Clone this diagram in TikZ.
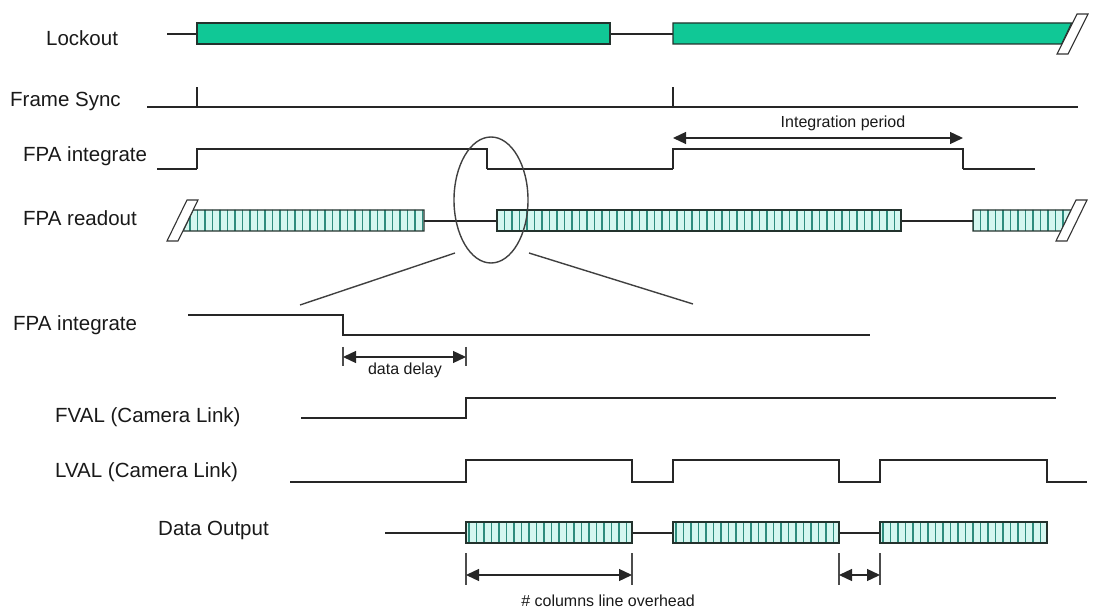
\documentclass[tikz,border=0pt]{standalone}
\usepackage{fontspec}
\setmainfont{Liberation Sans}
\usetikzlibrary{arrows.meta}
\definecolor{lockgreen}{RGB}{16,200,150}
\definecolor{barfill}{RGB}{212,247,240}
\definecolor{stripecol}{RGB}{45,140,125}
\definecolor{edgecol}{RGB}{35,50,45}
\tikzset{
  sig/.style={line width=1.4pt, black!85},
  sigthick/.style={line width=2.2pt, black!85},
  barline/.style={line width=1.3pt, edgecol},
  stripe/.style={line width=1.1pt, stripecol},
  lbl/.style={anchor=base west, inner sep=0pt, font=\fontsize{20.5}{24}\selectfont, black!90},
  small/.style={anchor=base, inner sep=0pt, font=\fontsize{16}{19}\selectfont, black!90},
  dim/.style={line width=1.3pt, black!85, {Triangle[length=13pt,width=12pt]}-{Triangle[length=13pt,width=12pt]}},
  tick/.style={line width=1.1pt, black!70},
  brk/.style={line width=1.1pt, black!80, fill=white},
  zoomline/.style={line width=1.4pt, black!75}
}
% striped bar: #1 polygon path, #2 start x
\newcommand{\stripedbar}[2]{%
  \begin{scope}
    \clip #1;
    \fill[barfill] #1;
    \foreach \i in {0,...,58} {\draw[stripe] ({#2+7.5*\i},150) -- ({#2+7.5*\i},600);}
  \end{scope}
  \draw[barline] #1;
}
\begin{document}
\begin{tikzpicture}[x=1pt,y=-1pt]
\useasboundingbox (0,0) rectangle (1095,609);

% ---------------- labels ----------------
\node[lbl] (lLock) at (46,46) {Lockout};
\node[lbl] (lSync) at (10,107) {Frame Sync};
\node[lbl] (lInt) at (23,162) {FPA integrate};
\node[lbl] (lRead) at (23,226) {FPA readout};
\node[lbl] (lInt2) at (13,331) {FPA integrate};
\node[lbl] (lFval) at (55,423) {FVAL (Camera Link)};
\node[lbl] (lLval) at (55,477) {LVAL (Camera Link)};
\node[lbl] (lData) at (158,535) {Data Output};

% ---------------- Lockout ----------------
\draw[sig] (167,34) -- (197,34);
\draw[sig] (610,34) -- (673,34);
\fill[lockgreen] (197,23) rectangle (610,44);
\draw[barline] (197,23) rectangle (610,44);
\fill[lockgreen] (673,23) -- (1071.7,23) -- (1061.8,44) -- (673,44) -- cycle;
\draw[barline] (673,23) -- (1071.7,23) -- (1061.8,44) -- (673,44) -- cycle;
\draw[brk] (1057,54) -- (1068,54) -- (1088,14) -- (1077,14) -- cycle;

% ---------------- Frame Sync ----------------
\draw[line width=1.8pt, black!85] (147,107) -- (1078,107);
\draw[sig] (197,107) -- (197,87);
\draw[sig] (673,107) -- (673,87);

% ---------------- FPA integrate (top) ----------------
\draw[sigthick] (157,169) -- (197,169);
\draw[sig] (197,169) -- (197,149) -- (487,149) -- (487,169);
\draw[sigthick] (487,169) -- (673,169);
\draw[sig] (673,169) -- (673,149) -- (963,149) -- (963,169);
\draw[sigthick] (963,169) -- (1035,169);
\coordinate (ipA) at (673,138);
\coordinate (ipB) at (963,138);
\draw[dim] (ipA) -- (ipB);
\node[small] (tInt) at (843,128) {Integration period};

% ---------------- FPA readout ----------------
\draw[sig] (424,221) -- (497,221);
\draw[sig] (901,221) -- (973,221);
\stripedbar{(193,210) -- (424,210) -- (424,231) -- (183,231) -- cycle}{190}
\stripedbar{(497,210) -- (901,210) -- (901,231) -- (497,231) -- cycle}{497}
\stripedbar{(973,210) -- (1071.2,210) -- (1061.3,231) -- (973,231) -- cycle}{973}
\draw[brk] (167,241) -- (178,241) -- (198,200) -- (187,200) -- cycle;
\draw[brk] (1056,241) -- (1067,241) -- (1087,200) -- (1076,200) -- cycle;

% ---------------- zoom ellipse ----------------
\draw[line width=1.4pt, black!75] (491,200) ellipse [x radius=37, y radius=63];
\draw[zoomline] (455,253) -- (300,305);
\draw[zoomline] (529,253) -- (693,304);

% ---------------- FPA integrate (bottom) ----------------
\draw[sig] (188,315) -- (343,315) -- (343,335) -- (870,335);
\draw[tick] (343,347) -- (343,366);
\draw[tick] (466,347) -- (466,366);
\coordinate (ddA) at (343,357);
\coordinate (ddB) at (466,357);
\draw[dim] (ddA) -- (ddB);
\node[small] (tDelay) at (405,375) {data delay};

% ---------------- FVAL ----------------
\draw[sig] (301,418) -- (466,418) -- (466,398) -- (1056,398);

% ---------------- LVAL ----------------
\draw[sig] (290,482) -- (466,482) -- (466,460) -- (632,460) -- (632,482)
  -- (673,482) -- (673,460) -- (839,460) -- (839,482) -- (880,482)
  -- (880,460) -- (1047,460) -- (1047,482) -- (1087,482);

% ---------------- Data Output ----------------
\draw[line width=1.8pt, black!85] (385,533) -- (466,533);
\draw[sig] (632,533) -- (673,533);
\draw[sig] (839,533) -- (880,533);
\stripedbar{(466,522) rectangle (632,543)}{469}
\stripedbar{(673,522) rectangle (839,543)}{676}
\stripedbar{(880,522) rectangle (1047,543)}{883}
\draw[line width=2pt, edgecol] (466,522) -- (466,543);
\draw[line width=2pt, edgecol] (673,522) -- (673,543);
\draw[line width=2pt, edgecol] (880,522) -- (880,543);

\draw[tick] (466,553) -- (466,585);
\draw[tick] (632,553) -- (632,585);
\coordinate (ohA) at (466,575);
\coordinate (ohB) at (632,575);
\draw[dim] (ohA) -- (ohB);
\node[small] (tOver) at (608,606) {\# columns line overhead};
\draw[tick] (839,553) -- (839,585);
\draw[tick] (880,553) -- (880,585);
\coordinate (gA) at (839,575);
\coordinate (gB) at (880,575);
\draw[dim] (gA) -- (gB);
\end{tikzpicture}
\end{document}
